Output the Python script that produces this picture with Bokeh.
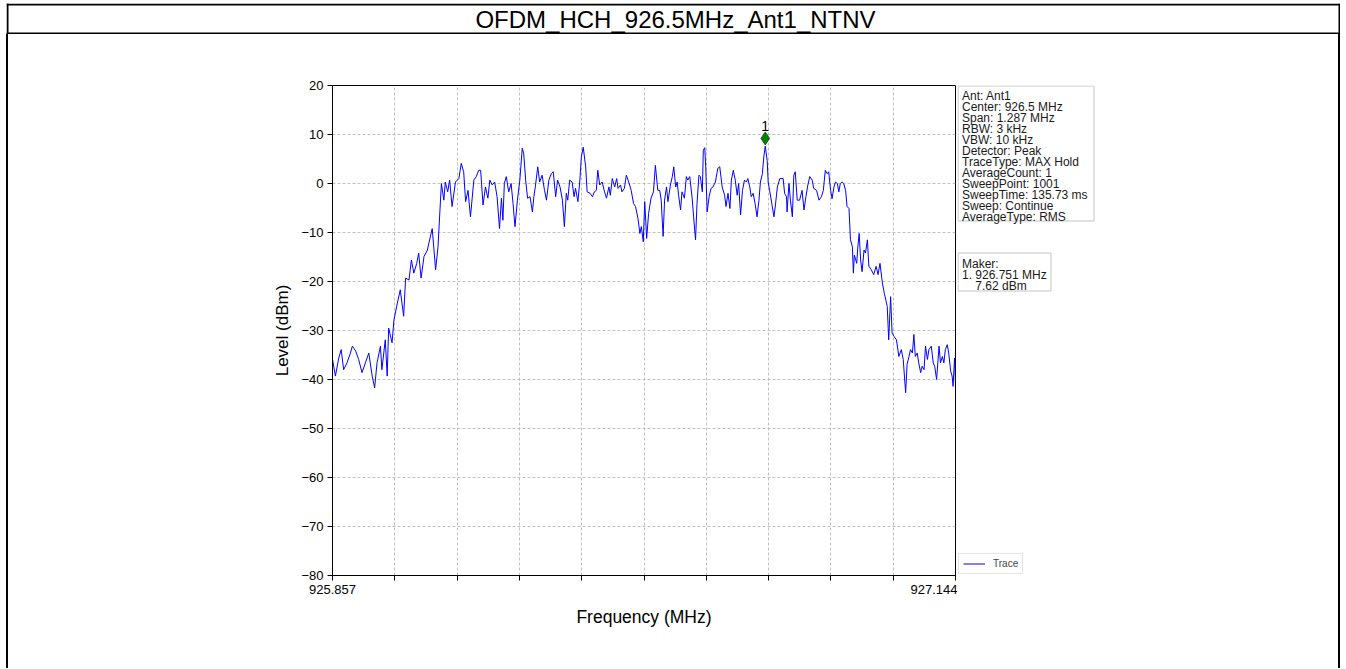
from bokeh.plotting import figure
from bokeh.models import FixedTicker, CustomJSTickFormatter, Range1d, Spacer
from bokeh.layouts import row, column
from bokeh.core.properties import value
from bokeh.embed import file_html
from bokeh.resources import INLINE

# ---------------- data ----------------
title_text = "OFDM_HCH_926.5MHz_Ant1_NTNV"
freq_start, freq_stop = 925.857, 927.144
level_min, level_max = -80, 20
y_ticks = [-80, -70, -60, -50, -40, -30, -20, -10, 0, 10, 20]
x_ticks = [round(freq_start + i * (freq_stop - freq_start) / 10, 5) for i in range(11)]

freq_mhz = [
    925.857, 925.863, 925.870, 925.875, 925.880, 925.887, 925.894, 925.898, 925.905, 925.911,
    925.918, 925.925, 925.932, 925.939, 925.944, 925.949, 925.956, 925.959, 925.966, 925.970,
    925.973, 925.980, 925.984, 925.991, 925.997, 926.004, 926.008, 926.015, 926.020, 926.025,
    926.031, 926.035, 926.040, 926.046, 926.053, 926.056, 926.063, 926.070, 926.075, 926.079,
    926.082, 926.087, 926.090, 926.095, 926.099, 926.104, 926.111, 926.118, 926.123, 926.128,
    926.132, 926.137, 926.142, 926.149, 926.154, 926.159,
    926.163, 926.168, 926.173, 926.178, 926.182, 926.187, 926.192, 926.197, 926.202, 926.206,
    926.209, 926.212, 926.216, 926.221, 926.226, 926.230, 926.234, 926.239, 926.244, 926.249,
    926.252, 926.256, 926.260, 926.265, 926.270, 926.273, 926.276, 926.281, 926.285, 926.290,
    926.295, 926.299, 926.304, 926.309, 926.313, 926.318, 926.322, 926.327, 926.332, 926.336,
    926.340, 926.343, 926.347, 926.352, 926.356, 926.359, 926.364, 926.368, 926.371, 926.375,
    926.380, 926.383, 926.389, 926.394, 926.398, 926.402, 926.405, 926.409, 926.414, 926.419,
    926.423, 926.428, 926.431, 926.435, 926.440, 926.444, 926.447, 926.452, 926.455, 926.460,
    926.464, 926.469, 926.474,
    926.479, 926.483, 926.488, 926.492, 926.495, 926.499, 926.502, 926.506, 926.510, 926.515,
    926.520, 926.524, 926.529, 926.533, 926.536, 926.540, 926.543, 926.547, 926.550, 926.555,
    926.559, 926.562, 926.566, 926.569, 926.572, 926.576, 926.579, 926.584, 926.588, 926.591,
    926.595, 926.600, 926.603, 926.607, 926.610, 926.614, 926.617, 926.621, 926.623, 926.626,
    926.628, 926.631, 926.635, 926.639, 926.643, 926.648, 926.653, 926.657, 926.662, 926.667,
    926.670, 926.674, 926.678, 926.681, 926.685, 926.689, 926.693, 926.696, 926.700, 926.704,
    926.708, 926.712, 926.715, 926.719, 926.722, 926.726, 926.730, 926.734, 926.738, 926.741,
    926.745, 926.748, 926.751, 926.755, 926.757, 926.760, 926.765, 926.769, 926.772, 926.776,
    926.781,
    926.788, 926.791, 926.795, 926.796, 926.800, 926.803, 926.807, 926.810, 926.813, 926.817,
    926.822, 926.827, 926.831, 926.835, 926.839, 926.843, 926.848, 926.851, 926.857, 926.862,
    926.867, 926.871, 926.875, 926.879, 926.882, 926.886, 926.889, 926.893, 926.896, 926.900,
    926.903, 926.906, 926.910, 926.913, 926.917, 926.920, 926.924, 926.927, 926.931, 926.933,
    926.935, 926.940, 926.942, 926.945, 926.948, 926.951, 926.955, 926.958, 926.962, 926.965,
    926.970, 926.975, 926.980, 926.984, 926.988, 926.993, 926.997, 927.003, 927.006, 927.010,
    927.013, 927.017, 927.022, 927.027, 927.032, 927.036, 927.041, 927.044, 927.048, 927.051,
    927.055, 927.058, 927.061, 927.065, 927.068, 927.072, 927.075, 927.079, 927.082, 927.086,
    927.089, 927.094, 927.098, 927.101, 927.105, 927.110, 927.113, 927.117, 927.120, 927.123,
    927.127, 927.130, 927.134, 927.137, 927.139, 927.142, 927.144,
]

level_dbm = [
    -35.9, -39.3, -35.6, -33.9, -38.0, -36.6, -34.6, -33.2, -34.2, -35.9,
    -38.6, -36.6, -34.6, -39.3, -41.7, -36.6, -33.2, -38.0, -31.9, -39.3,
    -29.5, -32.5, -27.8, -24.4, -21.7, -27.1, -19.3, -19.7, -15.6, -18.3,
    -16.3, -14.2, -19.3, -14.9, -13.6, -12.2, -9.2, -17.6, -12.9, -5.4,
    0.0, -3.4, 0.3, -1.7, 0.7, -4.7, 0.3, 1.0, 4.1, 2.4,
    -3.7, -1.4, -6.8, 0.7, 1.4, 2.7,
    2.7, -4.4, -0.7, -3.0, 0.7, -0.3, 0.3, -2.7, -9.2, -3.0,
    -7.5, 0.0, 1.4, -1.7, 0.0, -4.1, -8.8, -3.4, 0.7, 7.2,
    6.1, 0.7, -3.0, -2.7, -5.8, -2.7, -0.7, 3.4, 0.3, 1.7,
    -1.4, -3.4, 0.7, 2.0, 2.4, -2.7, 0.7, -0.7, -3.4, -8.8,
    -2.0, -3.4, 0.7, 0.3, -2.7, -1.0, -3.7, 0.7, 5.4, 7.4,
    3.4, -1.7, -2.0, -2.7, -1.7, -1.4, 2.7, -0.3, 0.3, -1.7,
    -3.0, -0.7, -2.4, 1.0, -0.7, 1.0, -1.0, -0.3, -1.7, -1.0,
    1.7, 0.3, -1.4,
    -4.1, -4.7, -7.1, -10.2, -8.8, -11.9, -3.7, -11.2, -6.1, -3.0,
    -1.7, 3.7, -1.4, -1.4, -3.4, -10.8, -3.4, -0.7, -3.7, -0.3,
    1.4, 3.4, -0.7, 0.3, -2.4, -5.4, -1.7, -3.0, 1.4, 0.7,
    1.4, -3.0, -6.8, -11.5, -4.1, 1.7, 1.4, -1.7, 6.8, 7.3,
    3.4, -5.8, -2.7, -1.0, -0.7, 0.3, 3.1, 3.4, -0.7, -2.4,
    -4.7, -2.0, -5.1, 0.7, 2.7, 0.7, -2.4, 0.0, -6.4, -1.4,
    0.7, 0.3, 1.0, -0.7, -2.7, -2.0, -4.1, -6.8, -3.4, 0.3,
    2.0, 5.4, 7.62, 4.7, 0.3, -1.4, -4.4, -6.8, -4.4, -0.7,
    1.0,
    1.0, -2.0, -2.7, -5.8, 0.0, -3.4, -6.8, 1.7, 2.4, -3.4,
    -3.4, -1.4, -5.4, -2.7, -0.3, 1.4, 0.7, -1.0, -1.4, -3.4,
    -2.7, -1.4, 2.7, 2.0, 2.4, -1.4, -3.1, -0.7, 0.3, 0.0,
    -1.7, 0.0, 0.3, 0.0, -1.4, -4.7, -5.1, -11.5, -12.9, -18.3,
    -14.6, -16.3, -13.2, -10.2, -15.6, -18.0, -13.6, -14.2, -11.5, -16.9,
    -17.6, -18.6, -16.9, -18.6, -16.3, -20.3, -22.4, -25.1, -31.9, -23.1,
    -30.5, -31.2, -31.9, -35.3, -33.9, -35.9, -42.7, -36.9, -35.3, -33.9,
    -34.6, -30.8, -35.3, -34.6, -36.6, -38.6, -37.3, -38.0, -33.2, -35.9,
    -33.9, -33.2, -36.6, -37.3, -40.0, -33.2, -36.6, -35.3, -36.6, -33.9,
    -32.9, -34.6, -38.3, -39.3, -41.4, -35.6, -41.0,
]

marker_freq = [926.751]
marker_level = [7.62]
marker_symbol_level = [9.2]   # diamond drawn slightly above the peak, as in the picture
marker_names = ["1"]

settings_lines = [
    "Ant: Ant1", "Center: 926.5 MHz", "Span: 1.287 MHz", "RBW: 3 kHz", "VBW: 10 kHz",
    "Detector: Peak", "TraceType: MAX Hold", "AverageCount: 1", "SweepPoint: 1001",
    "SweepTime: 135.73 ms", "Sweep: Continue", "AverageType: RMS",
]
marker_lines = ["Maker:", "1. 926.751 MHz", "\u00a0\u00a0\u00a0\u00a0" + f"{marker_level[0]:.2f} dBm"]

# ---------------- layout ----------------
FONT = "Liberation Sans"
BOX_W = 1334          # outer framed box width
TITLE_H = 31          # title bar height
BODY_H = 634          # body height below the title bar
MAIN_W = 949
SIDE_W = BOX_W - 2 - MAIN_W - 2
FRAME_TOP = 51
FRAME_H = 490
SIDE_X0 = 6 + 2 + MAIN_W              # page x where the side panel starts
FRAME_Y0 = 3 + TITLE_H + FRAME_TOP     # page y of the plot frame top
LINE_PITCH = 11


def blank(width, height, xr, yr):
    f = figure(width=width, height=height, output_backend="svg", toolbar_location=None,
               x_axis_location=None, y_axis_location=None, x_range=xr, y_range=yr,
               min_border=0, min_border_left=0, min_border_right=0,
               min_border_top=0, min_border_bottom=0)
    f.grid.visible = False
    f.outline_line_color = None
    f.background_fill_color = "white"
    f.border_fill_color = "white"
    return f


# title bar
tf = blank(BOX_W, TITLE_H, Range1d(0, BOX_W), Range1d(TITLE_H, 0))
tf.quad(left=[0, BOX_W - 2, 0, 0], right=[2, BOX_W, BOX_W, BOX_W],
        top=[0, 0, 0, TITLE_H - 2], bottom=[TITLE_H, TITLE_H, 2, TITLE_H],
        fill_color="black", line_color=None)
tf.text(x=[BOX_W / 2 + 2], y=[16], text=[title_text], text_align="center",
        text_baseline="middle", text_font=value(FONT), text_font_size="24px",
        text_color="black")

# side lines of the box
lbar = Spacer(width=2, height=BODY_H, styles={"background-color": "black"})
rbar = Spacer(width=2, height=BODY_H, styles={"background-color": "black"})

# main chart
p = figure(width=MAIN_W, height=BODY_H, x_range=Range1d(freq_start, freq_stop),
           y_range=Range1d(level_min, level_max),
           output_backend="svg", toolbar_location=None,
           min_border_left=324, min_border_right=2,
           min_border_top=FRAME_TOP, min_border_bottom=BODY_H - FRAME_TOP - FRAME_H)
p.background_fill_color = "white"
p.border_fill_color = "white"
p.outline_line_color = "black"
p.outline_line_alpha = 1
p.outline_line_width = 1

xt = FixedTicker(ticks=x_ticks)
yt = FixedTicker(ticks=y_ticks)
p.xaxis.ticker = xt
p.yaxis.ticker = yt
p.xgrid.ticker = xt
p.ygrid.ticker = yt
p.xaxis.formatter = CustomJSTickFormatter(
    code="return (index == 0 || index == ticks.length - 1) ? tick.toFixed(3) : '';")
p.yaxis.formatter = CustomJSTickFormatter(
    code="return tick < 0 ? '\u2212' + Math.abs(tick) : String(tick);")

for ax in (p.xaxis, p.yaxis):
    ax.axis_line_color = "black"
    ax.major_tick_line_color = "black"
    ax.minor_tick_line_color = None
    ax.major_tick_out = 5
    ax.major_tick_in = 0
    ax.major_label_text_font = FONT
    ax.major_label_text_font_size = "13px"
    ax.major_label_text_color = "black"
    ax.axis_label_text_font = FONT
    ax.axis_label_text_font_style = "normal"
    ax.axis_label_text_font_size = "17px"
    ax.axis_label_text_color = "black"
    ax.major_label_standoff = 4

p.xaxis.axis_label = "Frequency (MHz)"
p.yaxis.axis_label = "Level (dBm)"
p.xaxis.axis_label_text_font_size = "17.5px"
p.xaxis.axis_label_standoff = 10
p.yaxis.axis_label_standoff = 6

p.grid.grid_line_color = "#b0b0b0"
p.grid.grid_line_dash = "3 2"
p.grid.grid_line_width = 0.8

p.line(freq_mhz, level_dbm, line_color="#0000ff", line_width=1.0)
p.scatter(marker_freq, marker_symbol_level, marker="diamond", size=13,
          fill_color="#008000", line_color="#005000", line_width=0.8)
p.text(marker_freq, marker_symbol_level, text=marker_names, text_align="center",
       text_baseline="bottom", y_offset=-7, text_font=value(FONT),
       text_font_size="14px", text_color="black")

# side panel: info boxes and legend (its frame is aligned with the chart frame;
# its ranges are in page pixels)
sf = blank(SIDE_W, BODY_H, Range1d(SIDE_X0, SIDE_X0 + SIDE_W),
           Range1d(FRAME_Y0 + FRAME_H, FRAME_Y0))


def info_box(lines, left, right, top, bottom, first_baseline):
    sf.quad(left=[left], right=[right], top=[top], bottom=[bottom],
            fill_color="white", line_color="#c4c4c4", line_width=1)
    sf.text(x=[left + 4] * len(lines),
            y=[first_baseline + LINE_PITCH * i for i in range(len(lines))],
            text=lines, text_align="left", text_baseline="alphabetic",
            text_font=value(FONT), text_font_size="12px", text_color="#1a1a1a")


info_box(settings_lines, 957.5, 1093.5, 85.5, 220.5, 95.5)
info_box(marker_lines, 957.5, 1050.5, 252.5, 290.5, 263.5)

sf.line(x=[0, 1], y=[0, 0], line_color="#0000ff", line_width=1.0, legend_label="Trace")
lg = sf.legend[0]
lg.location = (1, 1)
lg.label_text_font = FONT
lg.label_text_font_size = "10px"
lg.glyph_width = 22
lg.glyph_height = 11
lg.label_height = 11
lg.label_standoff = 8
lg.padding = 4
lg.spacing = 0
lg.margin = 0
lg.border_line_color = "#cccccc"
lg.background_fill_color = "white"
lg.background_fill_alpha = 1

box = column(tf, row(lbar, p, sf, rbar, spacing=0), spacing=0)
root = column(Spacer(width=BOX_W, height=3),
              row(Spacer(width=6, height=TITLE_H + BODY_H), box, spacing=0),
              spacing=0)

open("out.html", "w").write(file_html(root, INLINE))
